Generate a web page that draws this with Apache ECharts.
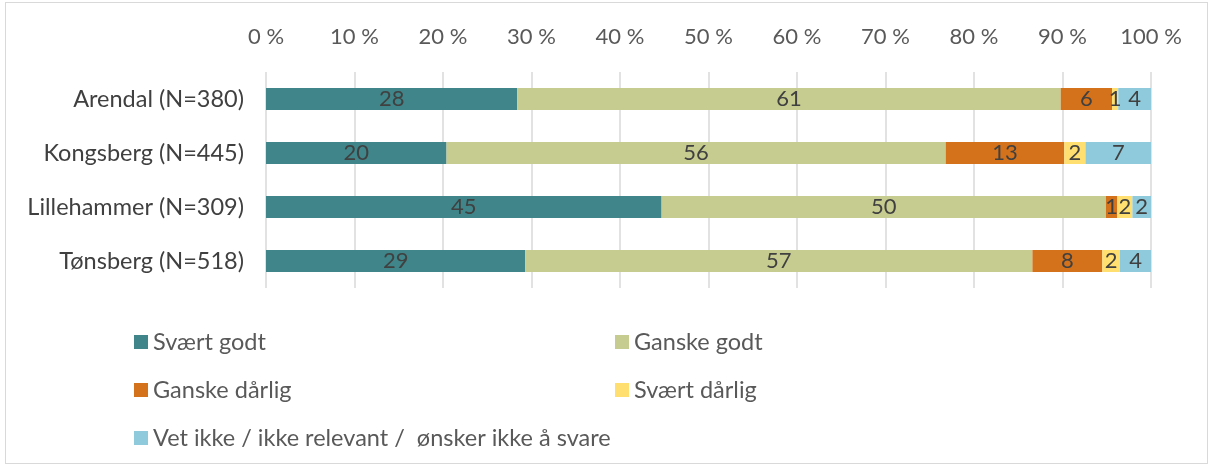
<!DOCTYPE html>
<html>
<head>
<meta charset="utf-8">
<script src="https://cdn.jsdelivr.net/npm/echarts@6/dist/echarts.min.js"></script>
<style>
  html, body { margin: 0; padding: 0; background: #fff; }
  #chart { position: absolute; left: 5px; top: 2px; width: 1203px; height: 462px; border: 1px solid #d9d9d9; box-sizing: border-box; }
</style>
</head>
<body>
<div id="chart"></div>
<script>
const categories = ['Arendal (N=380)', 'Kongsberg (N=445)', 'Lillehammer (N=309)', 'Tønsberg (N=518)']
const seriesNames = ['Svært godt', 'Ganske godt', 'Ganske dårlig', 'Svært dårlig', 'Vet ikke / ikke relevant /  ønsker ikke å svare']
const svaertGodt = [28.4, 20.4, 44.7, 29.3]
const ganskeGodt = [61.4, 56.4, 50.2, 57.3]
const ganskeDarlig = [5.8, 13.4, 1.3, 7.9]
const svaertDarlig = [0.7, 2.4, 1.7, 2.0]
const vetIkke = [3.7, 7.4, 2.1, 3.5]
const colors = ['#3f8589', '#c6cc8f', '#d4711b', '#fedf6f', '#8ecadb']

const font = 'Lato'
const fs = 23.5
const chart = echarts.init(document.getElementById('chart'))

const mkSeries = (name, data, i) => ({
  name,
  type: 'bar',
  stack: 'total',
  data,
  barWidth: 22,
  itemStyle: { color: colors[i] },
  label: {
    show: true,
    position: 'inside',
    color: '#404040',
    fontFamily: font,
    fontSize: 22,
    formatter: p => Math.round(p.value)
  }
})

const legendText = { color: '#595959', fontFamily: font, fontSize: fs }

const option = {
  animation: false,
  textStyle: { fontFamily: font },
  grid: { left: 260, right: 56, top: 69, bottom: 175 },
  xAxis: {
    type: 'value',
    position: 'top',
    min: 0,
    max: 100,
    interval: 10,
    axisLine: { show: false },
    axisTick: { show: false },
    axisLabel: { color: '#595959', fontFamily: font, fontSize: 22, margin: 24, formatter: v => v + ' %' },
    splitLine: { lineStyle: { color: '#d9d9d9', width: 1.5 } }
  },
  yAxis: {
    type: 'category',
    inverse: true,
    data: categories,
    axisLine: { show: false },
    axisTick: { show: false },
    axisLabel: { color: '#404040', fontFamily: font, fontSize: fs, margin: 22 }
  },
  legend: [
    {
      orient: 'vertical',
      left: 123,
      top: 322,
      itemWidth: 14,
      itemHeight: 14,
      itemGap: 24,
      icon: 'rect',
      data: [seriesNames[0], seriesNames[2], seriesNames[4]],
      textStyle: legendText
    },
    {
      orient: 'vertical',
      left: 604,
      top: 322,
      itemWidth: 14,
      itemHeight: 14,
      itemGap: 24,
      icon: 'rect',
      data: [seriesNames[1], seriesNames[3]],
      textStyle: legendText
    }
  ],
  series: [
    mkSeries(seriesNames[0], svaertGodt, 0),
    mkSeries(seriesNames[1], ganskeGodt, 1),
    mkSeries(seriesNames[2], ganskeDarlig, 2),
    mkSeries(seriesNames[3], svaertDarlig, 3),
    mkSeries(seriesNames[4], vetIkke, 4)
  ]
}

chart.setOption(option)
window.addEventListener('resize', () => chart.resize())
</script>
</body>
</html>
